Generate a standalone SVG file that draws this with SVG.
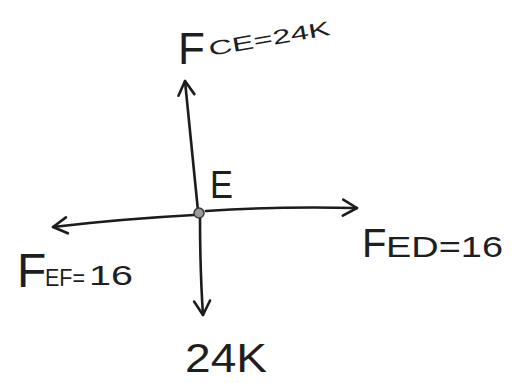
<svg xmlns="http://www.w3.org/2000/svg" width="517" height="383" viewBox="0 0 517 383">
  <style>
    .bg { fill: #ffffff; }
    .force { fill: none; stroke: #1c1c1c; stroke-width: 2.6; stroke-linecap: round; }
    .lbl { fill: #1e1e1e; font-family: "Liberation Sans", Arial, sans-serif; }
  </style>
  <defs>
    <marker id="vhead" markerUnits="userSpaceOnUse" viewBox="-17 -10 19 20" markerWidth="19" markerHeight="20" refX="0" refY="0" orient="auto" overflow="visible">
      <path d="M-14,-8 L0,0 L-14,8" fill="none" stroke="#1c1c1c" stroke-width="2.6" stroke-linecap="round" stroke-linejoin="round"/>
    </marker>
  </defs>
  <rect class="bg" x="0" y="0" width="517" height="383"/>

  <g id="connectors">
    <path id="f-ce" class="force" d="M198,211 Q192,150 185,81" marker-end="url(#vhead)"/>
    <path id="f-ed" class="force" d="M206,211 Q280,206 357,208" marker-end="url(#vhead)"/>
    <path id="f-ef" class="force" d="M194,215 Q120,219 53,227" marker-end="url(#vhead)"/>
    <path id="f-load" class="force" d="M200,217 Q200,270 203,315" marker-end="url(#vhead)"/>
  </g>

  <g id="node-E">
    <circle cx="199" cy="213" r="5" fill="#9a9a9a" stroke="#3a3a3a" stroke-width="1.5"/>
    <text class="lbl" x="210" y="198" font-size="39" textLength="23" lengthAdjust="spacingAndGlyphs">E</text>
  </g>

  <g id="label-FCE">
    <text class="lbl" x="178" y="64" font-size="44">F</text>
    <text class="lbl" x="210" y="56" font-size="20" textLength="123" lengthAdjust="spacingAndGlyphs" transform="rotate(-10 210 56)">CE=24K</text>
  </g>

  <g id="label-FED">
    <text class="lbl" x="362" y="257" font-size="40">F</text>
    <text class="lbl" x="386" y="257" font-size="30" textLength="117" lengthAdjust="spacingAndGlyphs">ED=16</text>
  </g>

  <g id="label-FEF">
    <text class="lbl" x="17" y="287" font-size="48">F</text>
    <text class="lbl" x="45" y="286" font-size="24" textLength="40" lengthAdjust="spacingAndGlyphs">EF=</text>
    <text class="lbl" x="89" y="285" font-size="28" textLength="44" lengthAdjust="spacingAndGlyphs">16</text>
  </g>

  <g id="label-load">
    <text class="lbl" x="185" y="372" font-size="40" textLength="82" lengthAdjust="spacingAndGlyphs">24K</text>
  </g>
</svg>
